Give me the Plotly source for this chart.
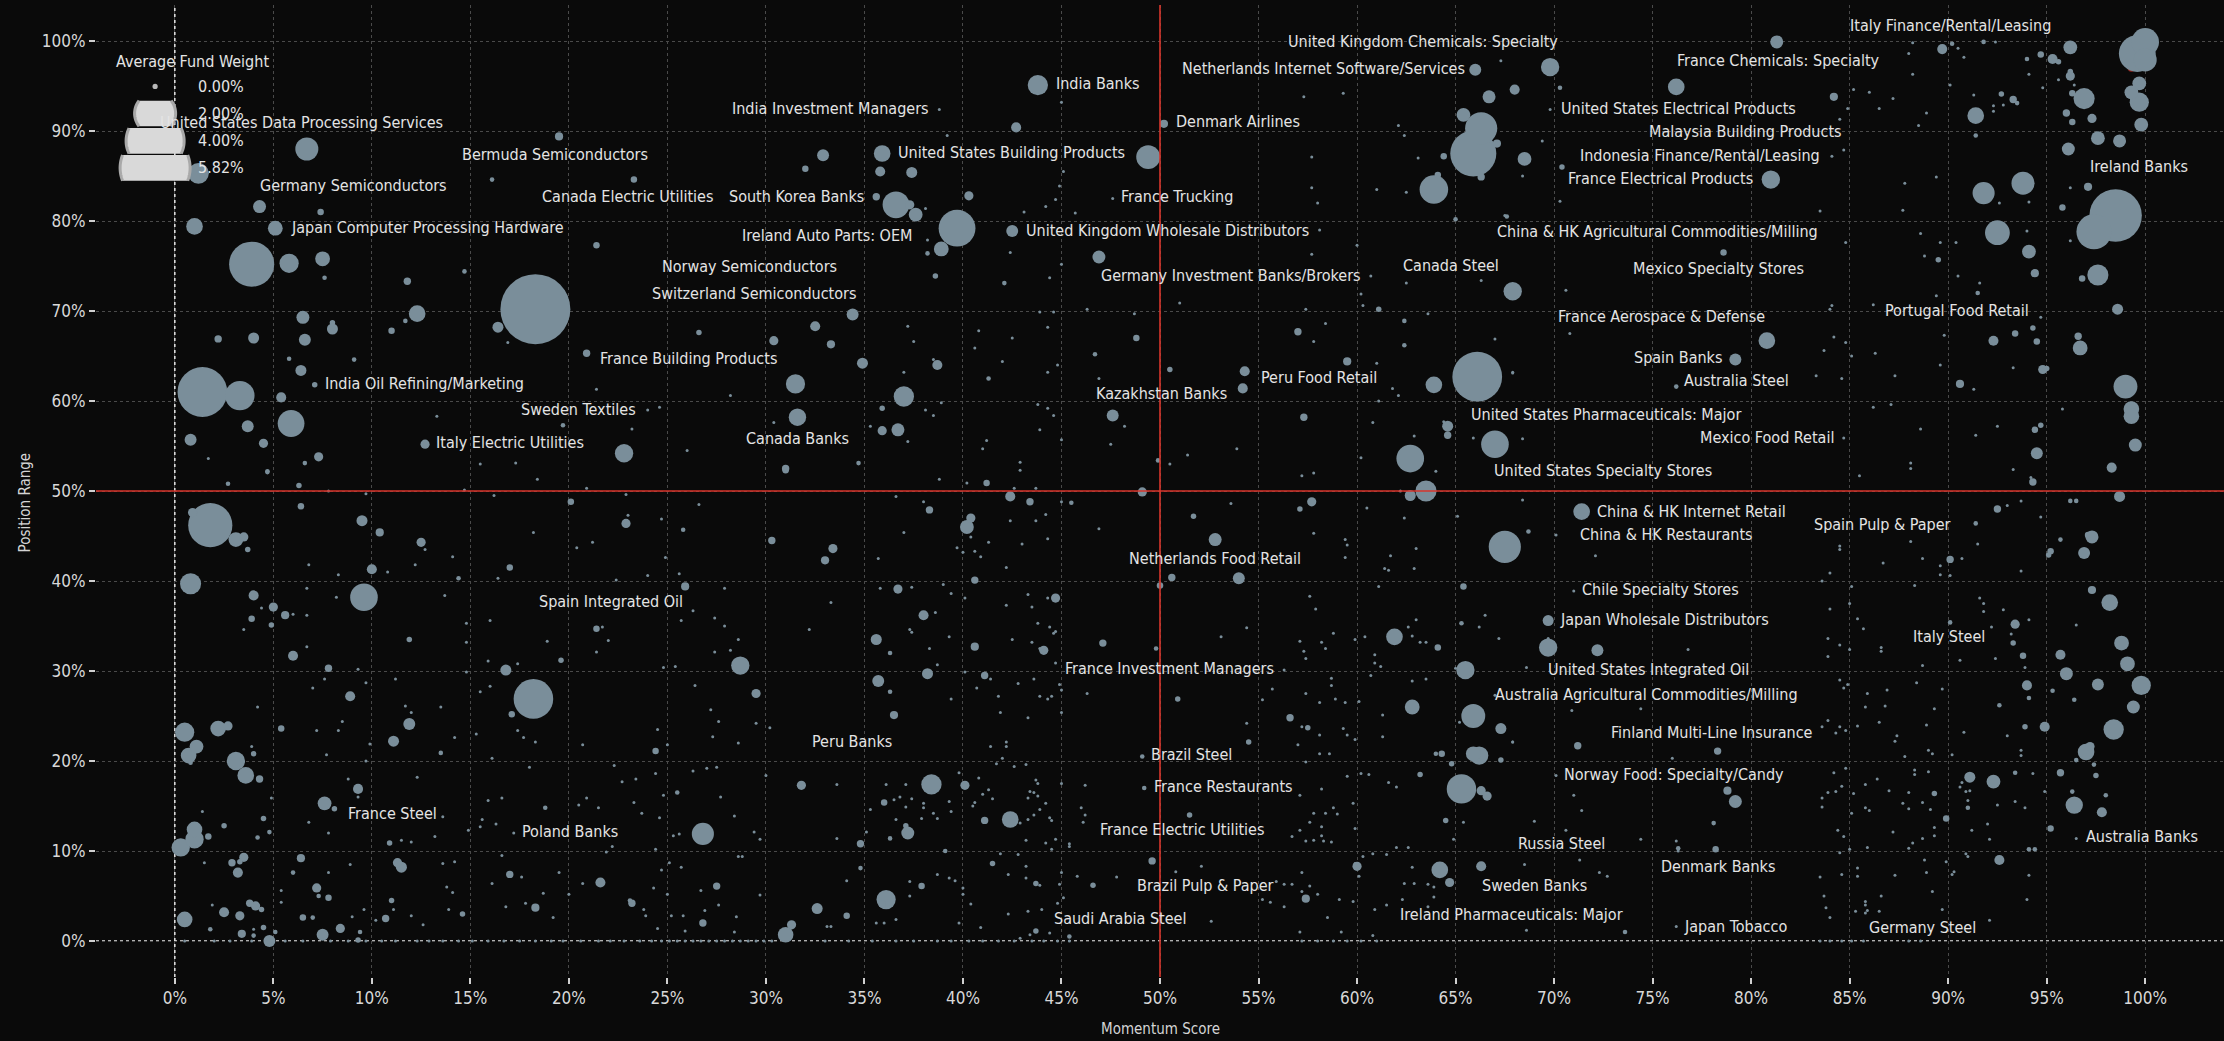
import numpy as np
import pandas as pd
import plotly.graph_objects as go

# Weighted points: (momentum score %, position range %, average fund weight %)
bubbles_top_left = [
    (1.2, 85.3, 0.51), (6.7, 88.0, 0.63), (19.5, 89.4, 0.08), (16.1, 84.6, 0.025), (23.3, 84.6, 0.05),
    (4.3, 81.6, 0.2), (7.4, 81.0, 0.05), (1.0, 79.4, 0.33), (5.1, 79.2, 0.26), (21.4, 77.3, 0.05),
    (3.9, 75.2, 2.42), (5.8, 75.3, 0.44), (7.5, 75.8, 0.26), (7.6, 73.7, 0.025), (11.8, 73.3, 0.065),
    (14.7, 74.4, 0.025), (18.3, 70.2, 5.82), (6.5, 69.3, 0.2), (12.3, 69.7, 0.33), (8.0, 68.7, 0.036),
    (8.0, 68.0, 0.145), (11.7, 68.9, 0.025), (11.0, 67.8, 0.05), (16.4, 68.2, 0.145), (2.2, 66.9, 0.065),
    (4.0, 67.0, 0.145), (6.6, 66.8, 0.17), (26.6, 67.6, 0.036), (30.4, 66.7, 0.1), (20.9, 65.3, 0.065),
    (5.8, 64.7, 0.025), (9.1, 64.6, 0.025), (6.4, 63.4, 0.145), (7.1, 61.8, 0.036), (1.4, 61.0, 2.94),
    (3.3, 60.6, 1.03), (5.4, 60.4, 0.12), (31.5, 61.9, 0.44), (19.7, 57.3, 0.025), (31.6, 58.2, 0.36),
    (3.7, 57.2, 0.17), (5.9, 57.5, 0.85), (0.8, 55.7, 0.17), (4.5, 55.3, 0.1), (12.7, 55.2, 0.1),
    (22.8, 54.2, 0.40), (31.0, 52.5, 0.065), (7.3, 53.8, 0.1), (6.6, 53.1, 0.025), (4.7, 52.2, 0.025),
    (32.0, 85.8, 0.05),
]
bubbles_top_mid = [
    (43.8, 95.1, 0.49), (42.7, 90.4, 0.12), (50.2, 90.8, 0.08), (32.9, 87.3, 0.17), (35.9, 87.5, 0.33),
    (35.8, 85.5, 0.12), (37.4, 85.4, 0.145), (49.4, 87.1, 0.68), (40.3, 82.8, 0.1), (35.6, 82.7, 0.065),
    (36.6, 81.8, 0.85), (37.3, 81.8, 0.1), (37.6, 80.7, 0.227), (39.7, 79.2, 1.61), (38.2, 76.4, 0.025),
    (38.9, 76.9, 0.26), (38.6, 73.9, 0.036), (42.5, 78.9, 0.17), (46.9, 76.0, 0.2), (42.1, 73.1, 0.025),
    (34.4, 69.6, 0.17), (32.5, 68.3, 0.12), (33.3, 66.3, 0.08), (48.8, 67.0, 0.05), (46.7, 65.2, 0.025),
    (34.9, 64.2, 0.145), (38.7, 64.0, 0.12), (41.3, 62.5, 0.025), (50.5, 63.5, 0.036), (54.3, 63.3, 0.12),
    (54.2, 61.4, 0.12), (59.5, 64.4, 0.08), (57.0, 67.7, 0.065), (62.4, 68.9, 0.025), (62.4, 66.2, 0.025),
    (61.1, 70.2, 0.036), (66.1, 62.7, 2.94), (63.9, 61.8, 0.33), (37.0, 60.5, 0.49), (35.9, 59.2, 0.036),
    (35.9, 56.7, 0.1), (36.7, 56.8, 0.2), (34.7, 53.1, 0.025), (47.6, 58.4, 0.17), (49.9, 53.4, 0.025),
    (57.3, 58.2, 0.065), (64.6, 57.2, 0.145), (64.6, 56.2, 0.065), (67.0, 55.2, 0.907), (62.7, 53.6, 0.907),
    (67.9, 72.2, 0.40), (65.0, 80.2, 0.025), (67.6, 80.5, 0.025), (63.9, 83.5, 0.97), (64.1, 85.1, 0.05),
    (66.3, 84.9, 0.065), (65.9, 87.5, 2.52), (66.3, 90.3, 1.23), (65.4, 91.8, 0.227), (67.1, 88.6, 0.08),
    (64.4, 87.2, 0.05), (66.7, 93.8, 0.2), (68.0, 94.6, 0.12), (66.0, 96.8, 0.17),
]
bubbles_top_right = [
    (81.3, 99.9, 0.2), (69.8, 97.1, 0.40), (70.3, 94.8, 0.025), (76.2, 94.9, 0.33), (68.5, 86.9, 0.227),
    (70.4, 86.0, 0.036), (81.0, 84.6, 0.40), (78.6, 76.5, 0.05), (80.8, 66.7, 0.33), (79.2, 64.6, 0.17),
    (76.2, 61.6, 0.025), (92.3, 66.7, 0.12), (93.4, 67.5, 0.05), (94.3, 68.1, 0.036), (94.5, 66.6, 0.05),
    (94.8, 63.5, 0.1), (95.0, 63.6, 0.036), (90.6, 61.9, 0.08), (96.6, 67.2, 0.065), (96.7, 65.9, 0.26),
    (99.0, 61.6, 0.68), (99.3, 59.1, 0.29), (99.3, 58.3, 0.29), (94.7, 57.3, 0.036), (94.4, 56.8, 0.05),
    (94.5, 54.2, 0.17), (99.5, 55.1, 0.2), (98.3, 52.6, 0.12), (98.6, 70.2, 0.145), (97.6, 74.0, 0.53),
    (96.8, 73.6, 0.05), (94.4, 74.2, 0.08), (94.1, 76.6, 0.227), (92.5, 78.7, 0.73), (97.4, 78.8, 1.46),
    (98.5, 80.6, 3.27), (95.8, 81.5, 0.05), (91.8, 83.1, 0.58), (93.8, 84.2, 0.63), (97.1, 83.8, 0.08),
    (96.1, 88.0, 0.2), (97.6, 89.2, 0.227), (98.7, 88.9, 0.2), (99.8, 90.7, 0.227), (96.3, 91.0, 0.05),
    (97.3, 91.4, 0.1), (96.0, 92.0, 0.065), (99.7, 93.2, 0.44), (99.3, 94.3, 0.227), (99.7, 95.3, 0.227),
    (96.9, 93.6, 0.53), (96.3, 94.2, 0.05), (96.2, 96.1, 0.1), (96.2, 96.6, 0.036), (95.3, 98.0, 0.12),
    (95.6, 97.7, 0.036), (94.7, 98.5, 0.05), (94.0, 98.0, 0.025), (96.2, 99.3, 0.227), (99.6, 98.6, 1.61),
    (100.0, 99.9, 0.907), (100.0, 97.9, 0.63), (91.4, 91.7, 0.33), (91.4, 89.5, 0.025), (92.7, 94.1, 0.036),
    (93.3, 93.5, 0.065), (93.5, 93.1, 0.025), (84.2, 93.8, 0.08), (89.7, 99.1, 0.12), (90.2, 99.7, 0.025),
    (91.8, 99.9, 0.025), (89.5, 75.7, 0.036), (91.5, 72.0, 0.025),
]
bubbles_low_left = [
    (1.8, 46.2, 2.32), (0.9, 47.6, 0.1), (3.1, 44.6, 0.26), (3.5, 44.9, 0.1), (3.7, 43.5, 0.036),
    (4.7, 52.1, 0.025), (2.7, 50.8, 0.025), (6.3, 50.6, 0.036), (6.4, 48.3, 0.05), (9.5, 46.7, 0.145),
    (10.4, 45.4, 0.08), (12.5, 44.3, 0.1), (20.1, 48.8, 0.05), (22.9, 46.4, 0.1), (25.8, 45.7, 0.025),
    (30.3, 44.5, 0.065), (31.0, 52.3, 0.05), (10.0, 41.3, 0.12), (14.4, 40.3, 0.025), (17.0, 41.5, 0.05),
    (25.9, 39.4, 0.08), (0.8, 39.7, 0.53), (4.0, 38.4, 0.12), (5.0, 37.1, 0.1), (5.6, 36.2, 0.08),
    (3.9, 35.8, 0.05), (4.9, 35.1, 0.036), (9.6, 38.2, 0.907), (21.4, 34.7, 0.05), (11.9, 33.5, 0.036),
    (6.0, 31.7, 0.12), (7.8, 30.3, 0.065), (19.6, 31.2, 0.036), (16.8, 30.1, 0.145), (28.7, 30.6, 0.40),
    (29.5, 27.5, 0.1), (24.4, 21.1, 0.05), (18.2, 26.9, 1.86), (17.1, 25.2, 0.05), (13.5, 20.9, 0.025),
    (11.9, 24.1, 0.17), (11.1, 22.2, 0.145), (8.9, 27.2, 0.12), (5.4, 23.6, 0.05), (0.5, 23.2, 0.44),
    (2.2, 23.6, 0.29), (2.7, 23.9, 0.1), (1.1, 21.6, 0.227), (0.7, 20.6, 0.29), (0.8, 19.8, 0.025),
    (3.1, 20.0, 0.40), (3.6, 18.4, 0.33), (4.3, 18.0, 0.065), (4.0, 20.8, 0.036), (9.3, 16.9, 0.12),
    (7.6, 15.3, 0.227), (8.1, 14.7, 0.036), (1.0, 12.4, 0.29), (1.0, 11.3, 0.40), (0.3, 10.4, 0.40),
    (1.7, 11.6, 0.05), (2.5, 12.8, 0.036), (4.5, 13.6, 0.036), (4.8, 12.1, 0.025), (4.2, 11.5, 0.025),
    (10.9, 10.9, 0.036), (18.8, 14.8, 0.025), (25.5, 16.5, 0.025), (26.8, 11.9, 0.58), (31.8, 17.3, 0.1),
    (6.4, 9.2, 0.08), (3.5, 9.3, 0.1), (2.9, 8.7, 0.065), (3.2, 7.6, 0.12), (3.3, 8.8, 0.036),
    (6.0, 7.6, 0.025), (7.2, 5.9, 0.1), (7.3, 5.0, 0.025), (7.8, 4.8, 0.05), (3.8, 4.2, 0.065),
    (4.1, 3.9, 0.1), (4.4, 3.5, 0.036), (2.5, 3.2, 0.12), (3.3, 2.8, 0.1), (0.5, 2.4, 0.29),
    (4.5, 1.5, 0.036), (1.8, 1.3, 0.025), (3.4, 0.8, 0.08), (4.0, 0.6, 0.025), (4.8, 0.0, 0.17),
    (5.1, 1.0, 0.025), (6.5, 2.6, 0.05), (7.0, 2.6, 0.025), (7.5, 0.7, 0.17), (8.4, 1.4, 0.1),
    (9.4, 1.0, 0.025), (9.3, 0.1, 0.036), (10.7, 2.5, 0.065), (11.0, 4.5, 0.036), (11.3, 8.7, 0.1),
    (11.5, 8.2, 0.145), (14.6, 3.0, 0.036), (17.0, 7.4, 0.065), (18.3, 3.7, 0.08), (21.6, 6.5, 0.12),
    (23.2, 4.2, 0.065), (23.1, 4.5, 0.025), (27.5, 6.1, 0.065), (26.8, 2.0, 0.065), (31.0, 0.7, 0.29),
    (31.3, 1.8, 0.1),
]
bubbles_low_mid = [
    (41.2, 50.9, 0.05), (42.4, 49.4, 0.12), (43.4, 48.8, 0.065), (49.1, 49.9, 0.1), (45.5, 48.7, 0.025),
    (38.3, 47.9, 0.065), (33.4, 43.6, 0.1), (33.0, 42.3, 0.08), (40.4, 47.0, 0.1), (40.2, 46.0, 0.227),
    (40.6, 40.1, 0.065), (36.7, 39.1, 0.1), (38.0, 36.2, 0.12), (35.6, 33.5, 0.145), (36.3, 32.0, 0.025),
    (40.6, 32.7, 0.08), (44.7, 38.1, 0.1), (44.1, 32.3, 0.1), (38.2, 29.7, 0.145), (41.1, 29.5, 0.065),
    (35.7, 28.9, 0.17), (36.3, 27.7, 0.025), (36.5, 25.1, 0.08), (47.1, 33.1, 0.065), (49.8, 32.5, 0.025),
    (50.9, 26.9, 0.036), (51.7, 47.2, 0.036), (52.8, 44.6, 0.2), (50.6, 40.4, 0.065), (50.0, 39.5, 0.05),
    (54.0, 40.3, 0.17), (57.1, 48.0, 0.036), (57.7, 48.8, 0.1), (62.7, 49.5, 0.145), (63.5, 50.0, 0.53),
    (67.5, 43.8, 1.23), (65.4, 39.4, 0.05), (65.3, 35.3, 0.025), (61.9, 33.8, 0.33), (64.1, 32.6, 0.05),
    (65.5, 30.1, 0.40), (62.8, 26.0, 0.26), (65.9, 25.0, 0.68), (67.3, 23.6, 0.145), (67.3, 20.1, 0.036),
    (65.9, 20.8, 0.26), (66.2, 20.6, 0.40), (64.0, 20.8, 0.025), (64.3, 20.8, 0.05), (64.8, 19.7, 0.036),
    (63.2, 18.5, 0.036), (65.3, 16.9, 1.03), (66.3, 16.7, 0.1), (66.6, 16.1, 0.1), (64.5, 13.4, 0.036),
    (56.6, 24.8, 0.065), (57.5, 23.7, 0.036), (54.5, 22.1, 0.036), (60.0, 8.3, 0.1), (64.2, 7.9, 0.33),
    (64.7, 6.5, 0.1), (66.3, 8.3, 0.12), (57.4, 4.7, 0.08), (49.6, 8.9, 0.065), (51.5, 14.0, 0.036),
    (49.2, 17.0, 0.025), (49.1, 20.5, 0.025), (38.4, 17.4, 0.49), (40.1, 17.3, 0.1), (36.0, 15.4, 0.05),
    (37.2, 12.0, 0.2), (37.1, 12.8, 0.036), (34.8, 10.8, 0.065), (36.3, 11.4, 0.025), (42.4, 13.5, 0.33),
    (41.1, 13.4, 0.065), (39.1, 10.0, 0.025), (34.8, 8.1, 0.025), (32.6, 3.6, 0.145), (34.1, 2.8, 0.05),
    (36.1, 4.6, 0.44), (35.9, 4.1, 0.065), (37.9, 6.1, 0.05), (41.5, 8.6, 0.036), (43.7, 6.4, 0.036),
    (46.6, 6.2, 0.036), (43.7, 1.1, 0.036), (45.4, 0.5, 0.025),
]
bubbles_low_right = [
    (94.3, 51.0, 0.065), (98.7, 49.4, 0.145), (96.2, 48.9, 0.025), (96.5, 48.9, 0.025), (92.5, 48.0, 0.065),
    (91.4, 46.4, 0.025), (97.3, 44.9, 0.2), (97.1, 45.1, 0.05), (96.9, 43.1, 0.17), (95.7, 44.6, 0.025),
    (95.2, 43.3, 0.05), (95.1, 42.9, 0.036), (90.1, 42.4, 0.065), (71.4, 47.7, 0.33), (68.7, 45.5, 0.025),
    (69.7, 35.6, 0.145), (69.7, 32.6, 0.40), (72.2, 32.3, 0.17), (71.2, 21.7, 0.065), (78.3, 21.1, 0.065),
    (78.8, 16.7, 0.08), (79.2, 15.5, 0.2), (78.1, 13.1, 0.025), (73.6, 1.0, 0.025), (78.2, 10.2, 0.05),
    (76.3, 10.3, 0.025), (97.3, 39.0, 0.08), (98.2, 37.6, 0.33), (98.8, 33.1, 0.26), (99.1, 30.8, 0.26),
    (99.8, 28.4, 0.44), (99.4, 26.0, 0.2), (97.6, 28.5, 0.17), (98.4, 23.5, 0.49), (97.0, 21.0, 0.33),
    (97.2, 21.6, 0.1), (96.0, 29.7, 0.2), (95.7, 31.8, 0.12), (94.0, 28.4, 0.12), (94.1, 27.0, 0.025),
    (95.3, 27.8, 0.025), (96.4, 26.8, 0.025), (94.9, 23.8, 0.12), (93.9, 23.8, 0.036), (93.4, 35.2, 0.1),
    (93.3, 33.1, 0.036), (93.8, 31.7, 0.05), (92.6, 26.2, 0.025), (90.1, 35.4, 0.025), (96.5, 20.1, 0.025),
    (97.4, 19.6, 0.025), (95.7, 18.7, 0.065), (93.4, 18.7, 0.025), (97.5, 18.4, 0.036), (96.3, 16.6, 0.025),
    (96.4, 15.1, 0.36), (97.8, 14.3, 0.12), (98.0, 16.2, 0.025), (95.2, 12.5, 0.05), (91.1, 18.2, 0.145),
    (92.3, 17.7, 0.227), (91.0, 14.8, 0.025), (89.3, 16.4, 0.036), (89.9, 13.6, 0.05), (94.1, 10.2, 0.025),
    (94.4, 10.2, 0.025), (92.6, 9.0, 0.12),
]

# Near-zero weight points: (momentum score %, position range %)
dots_top_left = [
    (16.9, 66.5), (21.4, 61.3), (28.2, 60.6), (24.0, 59.0), (24.6, 59.3), (13.3, 58.3), (23.2, 56.9),
    (30.4, 57.6), (1.7, 53.6), (26.0, 54.5), (15.5, 53.0), (17.3, 53.1),
]
dots_top_mid = [
    (45.0, 93.2), (38.8, 92.4), (39.2, 89.5), (45.1, 85.5), (44.9, 83.9), (44.7, 82.4), (45.7, 80.9),
    (43.1, 81.0), (44.2, 81.6), (38.1, 81.4), (38.2, 77.9), (47.6, 82.5), (45.0, 75.2), (44.4, 73.7),
    (42.4, 76.5), (51.0, 70.9), (46.3, 70.2), (48.7, 69.7), (43.9, 69.9), (44.6, 69.9), (37.2, 68.3),
    (37.5, 66.6), (40.8, 67.8), (42.5, 67.0), (40.6, 65.9), (44.3, 68.2), (37.0, 63.2), (38.5, 64.6),
    (42.0, 64.4), (44.3, 63.2), (44.8, 64.0), (46.9, 62.5), (57.8, 66.6), (58.4, 68.6), (63.6, 69.7),
    (60.3, 70.6), (60.2, 71.9), (57.4, 70.2), (67.0, 66.9), (61.8, 61.4), (62.1, 60.6), (61.0, 64.2),
    (61.1, 60.0), (67.9, 63.1), (38.1, 59.0), (38.5, 58.4), (38.9, 59.8), (35.3, 57.2), (37.2, 55.5),
    (43.8, 59.6), (44.3, 59.2), (44.6, 58.4), (43.9, 56.8), (45.0, 55.7), (41.2, 55.6), (41.0, 54.7),
    (42.9, 53.2), (42.9, 52.3), (48.2, 57.2), (47.5, 55.2), (50.5, 53.0), (51.4, 54.0), (53.9, 54.7),
    (60.8, 57.6), (62.9, 56.1), (60.2, 53.7), (64.4, 57.7), (65.9, 55.9), (63.3, 53.4), (64.0, 52.2),
    (57.8, 52.0), (57.2, 51.7), (60.0, 77.3), (57.7, 76.3), (60.7, 73.9), (62.5, 73.1), (66.3, 73.4),
    (59.3, 94.2), (57.3, 93.8), (62.1, 90.6), (62.4, 89.5), (57.7, 87.1), (63.1, 87.0), (57.7, 83.7),
    (58.0, 82.0), (61.0, 83.5), (62.5, 83.2), (58.1, 79.0), (67.3, 97.8),
]
dots_top_right = [
    (69.8, 92.4), (69.4, 88.9), (68.4, 85.0), (70.3, 82.2), (67.5, 80.6), (84.1, 87.2), (84.7, 87.9),
    (83.5, 81.1), (84.8, 77.6), (70.6, 72.3), (84.1, 70.6), (84.0, 70.2), (86.2, 70.7), (70.8, 67.5),
    (84.2, 67.1), (84.8, 66.5), (83.7, 65.6), (85.1, 65.0), (86.3, 65.3), (83.3, 62.8), (84.6, 62.5),
    (67.9, 63.2), (68.4, 55.8), (84.7, 55.9), (86.2, 59.3), (87.1, 59.6), (87.3, 62.8), (89.6, 64.0),
    (88.6, 56.9), (88.1, 53.1), (88.1, 52.5), (85.5, 51.7), (89.8, 67.3), (93.3, 63.7), (91.3, 61.3),
    (95.8, 59.1), (92.5, 57.2), (91.4, 56.2), (93.3, 52.4), (94.2, 51.5), (94.7, 69.3), (96.2, 77.8),
    (92.6, 82.0), (94.1, 82.1), (96.2, 83.7), (96.4, 95.1), (95.6, 95.7), (94.1, 96.3), (94.8, 94.8),
    (92.3, 92.8), (92.3, 92.2), (92.8, 92.9), (91.3, 94.0), (88.9, 92.0), (88.5, 90.6), (87.2, 93.6),
    (86.5, 92.5), (86.0, 94.3), (85.2, 94.6), (84.9, 92.5), (84.5, 91.3), (88.2, 96.3), (90.5, 99.2),
    (92.4, 99.9), (88.2, 99.8), (88.0, 98.6), (90.8, 98.2), (90.1, 95.1), (89.4, 84.9), (87.8, 84.2),
    (87.7, 81.2), (88.6, 78.6), (89.6, 77.6), (90.4, 77.6), (88.8, 76.1), (91.6, 73.1), (89.4, 71.7),
    (94.0, 78.9), (90.5, 73.9),
]
dots_low_left = [
    (7.8, 50.0), (9.7, 49.7), (14.7, 50.1), (16.2, 49.5), (18.4, 51.3), (20.9, 50.3), (22.9, 49.6),
    (23.0, 47.3), (24.7, 46.9), (26.6, 48.5), (12.7, 43.5), (18.2, 45.4), (21.2, 44.3), (20.4, 43.7),
    (14.1, 42.7), (12.2, 41.8), (10.8, 41.0), (8.3, 40.7), (6.8, 41.8), (16.4, 40.3), (22.4, 40.1),
    (24.0, 40.6), (24.9, 42.6), (25.6, 40.8), (27.9, 39.2), (6.0, 36.3), (6.7, 36.2), (4.4, 37.0),
    (3.5, 34.6), (6.7, 39.2), (8.2, 38.2), (13.7, 38.4), (14.8, 35.3), (16.0, 35.6), (21.7, 34.9),
    (22.0, 33.4), (18.9, 33.3), (14.8, 33.2), (6.7, 32.7), (9.3, 30.2), (21.4, 32.1), (17.4, 30.8),
    (15.9, 31.1), (14.8, 29.9), (27.4, 35.9), (27.9, 35.0), (27.4, 32.1), (28.2, 32.3), (28.6, 33.5),
    (24.8, 30.4), (25.4, 30.5), (26.3, 36.7), (25.7, 35.6), (26.4, 28.4), (27.2, 25.7), (27.6, 24.4),
    (29.5, 24.2), (30.2, 23.7), (27.3, 22.7), (28.6, 22.0), (25.0, 21.8), (24.5, 23.5), (20.7, 21.8),
    (17.4, 23.4), (17.7, 22.6), (18.3, 22.1), (18.0, 19.3), (16.0, 28.3), (15.5, 27.7), (15.3, 23.0),
    (16.1, 20.3), (14.2, 22.6), (13.5, 26.0), (11.7, 26.1), (12.0, 25.4), (9.9, 21.9), (9.7, 28.7),
    (11.2, 29.1), (7.6, 29.1), (7.0, 28.1), (8.5, 24.4), (8.3, 23.4), (7.2, 23.4), (7.7, 20.7),
    (9.7, 20.0), (4.2, 26.0), (3.9, 21.6), (12.3, 18.2), (8.8, 18.0), (9.3, 16.0), (4.9, 15.9),
    (1.4, 14.4), (6.8, 13.2), (7.8, 12.0), (11.5, 11.2), (12.0, 11.0), (13.2, 11.6), (13.6, 13.8),
    (14.9, 12.3), (15.5, 12.7), (16.3, 13.0), (15.6, 13.5), (17.2, 12.0), (15.9, 15.6), (16.6, 15.9),
    (20.9, 15.9), (20.5, 15.1), (21.5, 14.8), (22.3, 19.5), (23.3, 15.4), (23.7, 14.2), (24.6, 13.7),
    (24.8, 16.2), (26.3, 18.9), (27.0, 19.2), (27.5, 19.3), (23.4, 18.0), (24.4, 18.6), (22.7, 17.7),
    (25.3, 11.7), (25.6, 11.9), (29.4, 12.1), (29.7, 11.3), (28.4, 13.9), (27.7, 16.0), (30.0, 18.4),
    (28.8, 9.4), (28.6, 9.4), (1.5, 8.7), (8.9, 8.5), (7.8, 7.6), (5.4, 5.6), (5.4, 4.3),
    (1.9, 4.0), (4.0, 1.3), (9.0, 2.7), (10.2, 2.3), (11.1, 3.5), (9.6, 3.5), (12.0, 2.8),
    (12.6, 1.8), (13.8, 6.0), (14.1, 5.4), (13.9, 3.5), (13.6, 8.6), (14.2, 8.8), (16.6, 9.5),
    (17.6, 7.1), (16.1, 6.4), (16.8, 3.8), (17.8, 4.2), (18.7, 5.3), (19.2, 2.6), (19.5, 7.6),
    (20.0, 5.2), (20.7, 6.4), (22.2, 10.5), (21.9, 9.9), (23.8, 3.5), (23.9, 2.8), (24.3, 5.9),
    (24.4, 10.2), (24.7, 7.9), (25.0, 5.2), (25.1, 8.7), (25.7, 8.2), (27.6, 4.0), (26.9, 3.4),
    (25.8, 2.8), (25.9, 1.1), (26.7, 5.6), (28.5, 2.7), (28.4, 1.0), (29.7, 5.1), (24.5, 1.4),
    (25.2, 2.8),
]
dots_low_mid = [
    (42.6, 50.3), (43.7, 50.3), (45.0, 48.8), (38.8, 51.3), (40.2, 50.9), (36.6, 49.4), (38.0, 48.8),
    (40.4, 44.9), (42.4, 46.7), (43.0, 44.1), (41.3, 44.3), (40.6, 43.3), (40.9, 42.7), (40.0, 43.2),
    (39.7, 43.7), (42.2, 41.5), (43.7, 46.7), (44.3, 44.7), (44.2, 47.4), (37.0, 45.4), (35.7, 42.5),
    (39.0, 39.6), (39.4, 38.6), (40.1, 38.1), (35.8, 39.2), (37.4, 39.3), (33.3, 37.6), (32.2, 34.6),
    (38.6, 36.5), (37.3, 34.6), (37.4, 34.3), (38.3, 32.5), (39.3, 33.8), (42.2, 37.3), (43.3, 38.5),
    (43.5, 37.1), (43.8, 35.3), (44.4, 34.9), (44.6, 34.2), (44.7, 34.4), (44.3, 38.1), (42.5, 33.5),
    (43.5, 33.2), (43.9, 32.5), (44.7, 30.9), (38.7, 30.7), (40.1, 29.9), (39.4, 26.9), (40.7, 28.1),
    (41.8, 27.2), (41.4, 29.1), (42.8, 28.6), (43.6, 29.1), (43.9, 27.2), (44.3, 26.9), (44.5, 27.2),
    (45.0, 27.9), (44.9, 28.5), (43.3, 24.8), (41.9, 25.4), (45.0, 25.4), (46.3, 27.5), (53.6, 48.6),
    (54.4, 34.8), (53.1, 33.8), (56.3, 30.1), (57.8, 45.3), (59.4, 44.6), (59.5, 44.0), (59.4, 42.6),
    (60.5, 48.1), (61.7, 42.8), (61.4, 41.4), (61.6, 41.2), (63.0, 43.6), (62.9, 41.4), (62.4, 47.0),
    (65.1, 47.2), (62.2, 50.0), (66.2, 34.9), (66.5, 36.2), (67.2, 33.6), (61.1, 39.4), (57.6, 38.3),
    (57.9, 36.9), (58.8, 34.2), (58.2, 33.2), (58.4, 32.5), (57.1, 33.3), (57.3, 32.2), (57.4, 31.4),
    (59.9, 33.5), (60.4, 33.8), (62.6, 34.9), (63.0, 35.7), (62.8, 33.9), (63.2, 33.2), (63.5, 33.2),
    (60.9, 31.8), (60.9, 30.9), (61.2, 30.5), (65.0, 30.3), (62.8, 28.9), (63.5, 29.1), (60.7, 29.5),
    (58.7, 29.2), (58.7, 28.4), (58.9, 26.9), (57.4, 27.5), (58.1, 26.5), (59.4, 26.5), (60.1, 26.6),
    (55.2, 26.8), (55.7, 28.0), (67.0, 27.3), (67.9, 22.1), (65.2, 24.3), (54.4, 24.2), (57.0, 21.8),
    (58.1, 22.9), (59.3, 23.6), (59.5, 22.9), (59.9, 22.4), (61.3, 22.7), (61.3, 25.1), (57.2, 23.8),
    (58.1, 20.8), (58.6, 20.8), (57.4, 19.9), (59.5, 18.3), (60.2, 18.6), (60.6, 18.5), (61.6, 17.6),
    (62.0, 17.1), (58.2, 16.9), (57.1, 16.2), (57.8, 14.2), (58.4, 14.2), (59.0, 14.1), (58.8, 14.8),
    (57.6, 13.2), (58.2, 12.7), (59.8, 15.3), (59.9, 12.5), (57.1, 12.3), (56.7, 11.6), (57.4, 11.1),
    (57.8, 11.2), (58.2, 11.7), (58.3, 11.1), (58.7, 11.0), (60.3, 9.4), (60.8, 9.7), (61.5, 9.6),
    (62.0, 10.4), (62.6, 10.4), (62.8, 8.2), (62.4, 6.4), (62.3, 4.6), (63.6, 6.3), (63.9, 6.0),
    (63.9, 4.9), (63.6, 3.8), (62.9, 6.4), (65.4, 13.2), (64.9, 11.3), (57.2, 5.5), (57.2, 7.6),
    (56.7, 6.3), (57.6, 6.1), (58.0, 5.2), (55.9, 6.6), (56.3, 6.3), (55.2, 4.6), (55.6, 4.3),
    (56.3, 3.8), (58.5, 2.6), (59.1, 4.6), (59.8, 4.4), (59.2, 1.0), (57.1, 1.0), (60.9, 3.5),
    (61.5, 4.0), (60.8, 0.6), (59.9, 8.6), (60.1, 7.2), (52.1, 8.3), (50.8, 7.7), (52.6, 2.2),
    (33.6, 17.4), (36.1, 17.4), (37.1, 17.4), (39.8, 18.7), (40.8, 18.1), (41.0, 16.3), (41.3, 16.8),
    (41.5, 15.8), (40.6, 15.4), (40.5, 15.0), (41.7, 19.7), (42.0, 20.3), (42.2, 21.6), (41.4, 21.6),
    (42.2, 22.1), (42.6, 19.4), (43.2, 19.6), (43.7, 17.9), (43.4, 16.6), (43.3, 15.9), (43.6, 16.5),
    (43.8, 16.1), (44.2, 15.3), (43.9, 14.6), (43.6, 14.0), (44.4, 13.7), (44.5, 13.4), (43.8, 17.5),
    (45.0, 17.5), (46.2, 17.3), (46.0, 14.8), (46.2, 14.0), (46.1, 13.2), (35.3, 14.6), (36.6, 13.5),
    (37.9, 13.6), (38.7, 13.6), (38.5, 14.2), (38.0, 14.8), (38.0, 15.3), (37.4, 15.8), (36.8, 16.0),
    (37.1, 14.9), (36.5, 15.7), (39.3, 15.5), (39.4, 14.4), (36.3, 11.4), (35.1, 12.1), (33.6, 11.4),
    (42.9, 13.1), (43.3, 13.5), (43.2, 11.2), (44.2, 10.9), (44.7, 11.3), (45.4, 10.8), (44.5, 10.2),
    (45.4, 10.5), (34.1, 6.7), (33.1, 1.6), (33.3, 1.6), (37.3, 6.6), (37.3, 5.0), (38.7, 7.4),
    (39.3, 7.0), (39.6, 6.7), (40.0, 5.9), (40.0, 5.2), (40.4, 4.1), (39.8, 2.0), (36.6, 2.4),
    (35.6, 2.0), (36.0, 2.0), (41.9, 9.7), (42.8, 9.6), (43.2, 8.3), (42.3, 7.4), (43.2, 7.0),
    (43.9, 6.2), (44.9, 6.3), (45.0, 7.6), (45.1, 4.8), (44.8, 4.2), (45.8, 7.2), (47.8, 7.1),
    (42.3, 3.0), (43.3, 3.3), (44.0, 3.5), (44.4, 0.9), (43.4, 0.7), (42.9, 0.3), (40.9, 1.5),
    (46.9, 45.8),
]
dots_low_right = [
    (93.0, 48.4), (93.7, 48.9), (94.7, 47.1), (90.7, 42.5), (88.7, 42.5), (89.6, 41.7), (89.6, 40.7),
    (90.1, 40.6), (93.7, 41.1), (86.7, 42.0), (88.1, 44.4), (91.5, 44.1), (68.4, 49.0), (70.1, 45.1),
    (72.1, 42.8), (71.0, 38.9), (69.7, 33.6), (68.6, 30.4), (67.9, 22.1), (70.9, 25.6), (74.4, 25.8),
    (76.0, 20.3), (71.0, 16.2), (71.4, 14.5), (70.1, 18.4), (69.0, 13.3), (70.6, 12.3), (74.4, 11.3),
    (76.2, 11.1), (76.3, 10.0), (68.5, 8.5), (71.3, 9.0), (72.3, 7.6), (72.7, 7.2), (68.6, 1.2),
    (91.6, 38.1), (91.8, 37.5), (91.8, 36.6), (92.8, 36.8), (93.2, 34.1), (94.1, 35.7), (92.2, 34.9),
    (92.4, 31.4), (93.9, 30.4), (90.6, 31.2), (88.7, 30.6), (88.4, 28.7), (89.7, 28.0), (86.9, 27.9),
    (85.8, 26.0), (86.8, 26.1), (89.3, 25.8), (85.9, 27.5), (85.4, 23.9), (86.5, 24.3), (88.9, 24.0),
    (90.8, 23.2), (93.0, 22.8), (87.3, 22.2), (87.4, 22.8), (89.0, 21.2), (89.2, 20.8), (87.8, 20.5),
    (90.2, 20.7), (83.6, 23.8), (83.9, 24.5), (84.3, 23.1), (84.5, 23.8), (84.8, 23.4), (84.0, 36.9),
    (85.0, 37.5), (85.4, 35.8), (85.7, 34.7), (83.9, 33.6), (84.5, 32.9), (83.9, 31.6), (85.0, 32.4),
    (86.6, 32.6), (86.6, 32.2), (88.3, 39.5), (85.1, 39.4), (84.5, 43.9), (84.5, 43.5), (84.0, 40.9),
    (83.6, 40.0), (84.5, 29.0), (84.7, 28.1), (84.9, 28.5), (94.3, 18.6), (90.7, 17.6), (90.6, 17.1),
    (90.9, 16.6), (91.1, 16.7), (91.0, 15.6), (92.5, 15.1), (93.4, 15.5), (94.9, 16.6), (92.0, 13.0),
    (91.2, 12.3), (92.1, 11.3), (93.9, 14.8), (88.0, 16.5), (87.7, 15.3), (88.0, 14.7), (88.7, 15.4),
    (89.1, 14.6), (87.0, 16.7), (86.4, 18.0), (85.8, 17.4), (85.2, 16.4), (84.6, 17.2), (84.3, 16.6),
    (83.9, 16.5), (83.6, 15.9), (83.6, 14.9), (85.1, 14.2), (85.8, 14.8), (86.0, 14.5), (84.2, 18.7),
    (84.8, 19.2), (88.3, 19.0), (88.3, 18.5), (89.0, 18.8), (89.3, 12.6), (89.3, 11.7), (88.7, 11.4),
    (88.2, 10.9), (87.2, 12.1), (84.4, 12.3), (84.7, 11.6), (85.9, 10.4), (85.0, 10.2), (84.5, 9.8),
    (88.0, 10.3), (90.9, 9.7), (91.0, 9.4), (89.9, 8.8), (88.8, 9.0), (90.3, 7.7), (90.2, 7.4),
    (88.9, 7.6), (87.3, 7.3), (94.1, 7.3), (94.0, 4.6), (85.4, 8.1), (85.4, 7.2), (84.6, 7.4),
    (83.5, 7.1), (83.7, 5.0), (86.6, 5.0), (85.8, 4.4), (85.8, 4.0), (85.9, 3.4), (85.3, 3.3),
    (85.8, 3.1), (86.5, 3.3), (83.8, 3.7), (84.0, 2.6), (89.7, 3.5), (92.1, 2.3), (76.8, 32.4),
    (76.2, 1.6), (96.5, 35.1), (93.7, 20.6), (93.7, 21.2), (96.5, 11.4), (89.2, 5.5),
]
# momentum scores of points sitting on the 0% position range floor
floor_momentum = [
    0.5, 2.0, 2.8, 3.9, 5.6, 6.5, 7.9, 8.8, 9.7, 10.5, 11.2, 12.3, 12.9, 13.6, 14.4, 15.1, 15.9, 16.7,
    17.5, 18.3, 19.1, 19.7, 20.6, 21.5, 22.1, 22.8, 23.6, 24.2, 24.7, 25.1, 25.5, 25.9, 26.3, 26.7,
    27.1, 27.5, 27.9, 28.3, 28.7, 29.1, 29.5, 29.9, 30.3, 33.0, 34.2, 35.4, 36.6, 37.5, 38.7, 39.4,
    40.3, 41.0, 41.8, 42.6, 43.5, 44.1, 44.8, 45.4, 57.2, 58.0, 58.8, 59.5, 60.2, 61.0, 83.5, 84.0,
    84.6, 85.1, 85.7, 88.0, 88.6,
]
highlight_point = [(99.3, 97.0, 0.065)]

label_names = [
    "Italy Finance/Rental/Leasing", "United Kingdom Chemicals: Specialty", "France Chemicals: Specialty",
    "Netherlands Internet Software/Services", "India Banks", "India Investment Managers",
    "United States Electrical Products", "Denmark Airlines", "United States Data Processing Services",
    "Malaysia Building Products", "Bermuda Semiconductors", "United States Building Products",
    "Indonesia Finance/Rental/Leasing", "Ireland Banks", "France Electrical Products",
    "Germany Semiconductors", "Canada Electric Utilities", "South Korea Banks", "France Trucking",
    "Japan Computer Processing Hardware", "United Kingdom Wholesale Distributors",
    "China & HK Agricultural Commodities/Milling", "Ireland Auto Parts: OEM", "Norway Semiconductors",
    "Mexico Specialty Stores", "Germany Investment Banks/Brokers", "Canada Steel",
    "Switzerland Semiconductors", "France Aerospace & Defense", "Portugal Food Retail",
    "France Building Products", "Spain Banks", "Australia Steel", "India Oil Refining/Marketing",
    "Peru Food Retail", "Kazakhstan Banks", "Sweden Textiles", "United States Pharmaceuticals: Major",
    "Italy Electric Utilities", "Canada Banks", "Mexico Food Retail", "United States Specialty Stores",
    "China & HK Internet Retail", "Spain Pulp & Paper", "China & HK Restaurants",
    "Netherlands Food Retail", "Spain Integrated Oil", "Chile Specialty Stores",
    "Japan Wholesale Distributors", "Italy Steel", "France Investment Managers",
    "United States Integrated Oil", "Australia Agricultural Commodities/Milling",
    "Finland Multi-Line Insurance", "Peru Banks", "Brazil Steel", "Norway Food: Specialty/Candy",
    "France Restaurants", "France Steel", "France Electric Utilities", "Poland Banks", "Russia Steel",
    "Denmark Banks", "Australia Banks", "Brazil Pulp & Paper", "Sweden Banks",
    "Ireland Pharmaceuticals: Major", "Saudi Arabia Steel", "Japan Tobacco", "Germany Steel",
]
# where each label's text sits (x, y in axis units, which side is anchored)
label_spots = [
    (84.9, 101.7, "left"), (56.4, 99.9, "left"), (76.15, 97.8, "left"), (51.0, 96.9, "left"),
    (44.6, 95.3, "left"), (38.4, 92.5, "right"), (70.25, 92.5, "left"), (50.7, 91.1, "left"),
    (13.7, 90.9, "right"), (84.7, 89.9, "right"), (24.1, 87.4, "right"), (36.6, 87.6, "left"),
    (83.6, 87.3, "right"), (97.1, 86.1, "left"), (80.2, 84.7, "right"), (4.2, 83.9, "left"),
    (27.4, 82.7, "right"), (35.1, 82.7, "right"), (47.9, 82.7, "left"), (5.8, 79.3, "left"),
    (43.1, 79.0, "left"), (83.5, 78.8, "right"), (37.5, 78.4, "right"), (24.6, 75.0, "left"),
    (82.8, 74.7, "right"), (46.9, 73.9, "left"), (67.3, 75.1, "right"), (24.1, 72.0, "left"),
    (80.8, 69.4, "right"), (94.2, 70.1, "right"), (21.5, 64.7, "left"), (78.6, 64.85, "right"),
    (76.5, 62.3, "left"), (7.5, 62.0, "left"), (55.0, 62.6, "left"), (53.5, 60.8, "right"),
    (23.5, 59.1, "right"), (79.6, 58.5, "right"), (13.15, 55.4, "left"), (28.9, 55.8, "left"),
    (84.3, 56.0, "right"), (78.1, 52.25, "right"), (72.1, 47.7, "left"), (90.25, 46.3, "right"),
    (71.2, 45.2, "left"), (48.3, 42.5, "left"), (25.9, 37.7, "right"), (71.3, 39.1, "left"),
    (70.2, 35.7, "left"), (88.1, 33.8, "left"), (55.9, 30.3, "right"), (69.6, 30.2, "left"),
    (82.5, 27.4, "right"), (83.25, 23.2, "right"), (36.5, 22.2, "right"), (49.45, 20.7, "left"),
    (70.4, 18.55, "left"), (49.6, 17.2, "left"), (8.7, 14.2, "left"), (55.4, 12.4, "right"),
    (17.5, 12.2, "left"), (72.7, 10.8, "right"), (75.3, 8.3, "left"), (96.9, 11.6, "left"),
    (55.9, 6.2, "right"), (66.25, 6.2, "left"), (73.6, 3.0, "right"), (44.5, 2.45, "left"),
    (76.5, 1.65, "left"), (85.9, 1.55, "left"),
]
legend_values = [0.0, 2.0, 4.0, 5.82]
legend_text = ["0.00%", "2.00%", "4.00%", "5.82%"]

FONT = "Liberation Sans Narrow, DejaVu Sans Condensed, Arial Narrow, Roboto, sans-serif"
BG = "#0a0a0a"
BUBBLE = "#7a8e9a"
TEXT = "#e4e4e4"
RED = "#d8352b"
LABEL_SIZE = 16


def marker_px(weight):
    # bubble area follows fund weight, with a floor so zero-weight names still show
    w = np.asarray(weight, dtype=float)
    return np.maximum(3.0, 70.0 * np.sqrt(w / 5.82))


bubbles = pd.DataFrame(
    bubbles_top_left + bubbles_top_mid + bubbles_top_right
    + bubbles_low_left + bubbles_low_mid + bubbles_low_right,
    columns=["momentum", "position", "weight"],
).sort_values("weight", ascending=False)

dots = pd.DataFrame(
    dots_top_left + dots_top_mid + dots_top_right + dots_low_left + dots_low_mid + dots_low_right
    + [(m, 0.0) for m in floor_momentum],
    columns=["momentum", "position"],
)
hl = pd.DataFrame(highlight_point, columns=["momentum", "position", "weight"])

fig = go.Figure()
fig.add_trace(go.Scatter(
    x=hl["momentum"], y=hl["position"], mode="markers",
    marker=dict(size=marker_px(hl["weight"]), color=RED, line=dict(width=0)),
    hoverinfo="skip"))
fig.add_trace(go.Scatter(
    x=bubbles["momentum"], y=bubbles["position"], mode="markers",
    marker=dict(size=marker_px(bubbles["weight"]), color=BUBBLE, opacity=1, line=dict(width=0)),
    hoverinfo="skip"))
fig.add_trace(go.Scatter(
    x=dots["momentum"], y=dots["position"], mode="markers",
    marker=dict(size=3, color=BUBBLE, line=dict(width=0)),
    hoverinfo="skip"))

annotations = []
for name, (lx, ly, side) in zip(label_names, label_spots):
    annotations.append(dict(x=lx, y=ly, xref="x", yref="y", text=name, showarrow=False,
                            xanchor=side, yanchor="middle", font=dict(size=LABEL_SIZE, color=TEXT)))

# axis titles
annotations.append(dict(x=0.5, y=-0.054, xref="paper", yref="paper", text="Momentum Score",
                        showarrow=False, xanchor="center", yanchor="middle",
                        font=dict(size=15, color="#d4d4d4")))
annotations.append(dict(x=-0.0335, y=0.488, xref="paper", yref="paper", text="Position Range",
                        showarrow=False, textangle=-90, xanchor="center", yanchor="middle",
                        font=dict(size=15, color="#d4d4d4")))

# size legend, drawn by hand over the top-left corner
leg_x = -1.0
leg_rows = [94.95, 91.95, 88.9, 85.9]
annotations.append(dict(x=0.9, y=97.7, xref="x", yref="y", text="Average Fund Weight",
                        showarrow=False, xanchor="center", yanchor="middle",
                        font=dict(size=LABEL_SIZE, color=TEXT)))
for txt, ly in zip(legend_text, leg_rows):
    annotations.append(dict(x=1.1, y=ly, xref="x", yref="y", text=txt, showarrow=False,
                            xanchor="left", yanchor="middle", font=dict(size=LABEL_SIZE, color=TEXT)))

shapes = [
    dict(type="line", xref="x", yref="paper", x0=0, x1=0, y0=0, y1=1,
         line=dict(color="#e8e8e8", width=1.5, dash="dot"), layer="below"),
    dict(type="line", xref="paper", yref="y", x0=0, x1=1, y0=0, y1=0,
         line=dict(color="#e8e8e8", width=1.5, dash="dot"), layer="below"),
    dict(type="line", xref="x", yref="paper", x0=50, x1=50, y0=0, y1=1,
         line=dict(color=RED, width=1.6), layer="above"),
    dict(type="line", xref="paper", yref="y", x0=0, x1=1, y0=50, y1=50,
         line=dict(color=RED, width=1.6), layer="above"),
]


def barrel_paths(r, h=12.8, n=28):
    ys = np.linspace(-h, h, n)
    xs = np.sqrt(np.maximum(r * r - ys * ys, 0.0))
    right = [f"{x:.2f},{y:.2f}" for x, y in zip(xs, ys)]
    left = [f"{-x:.2f},{y:.2f}" for x, y in zip(xs[::-1], ys[::-1])]
    body = "M " + " L ".join(right + left) + " Z"
    return body, "M " + " L ".join(right), "M " + " L ".join(left)


leg_sizes = marker_px(legend_values)
r0 = 2.6
shapes.append(dict(type="circle", xref="x", yref="y", xsizemode="pixel", ysizemode="pixel",
                   xanchor=leg_x, yanchor=leg_rows[0], x0=-r0, x1=r0, y0=-r0, y1=r0,
                   fillcolor="#b8b8b8", line=dict(width=0), layer="above"))
for d, ly in zip(leg_sizes[1:], leg_rows[1:]):
    body, rside, lside = barrel_paths(d / 2.0)
    common = dict(type="path", xref="x", yref="y", xsizemode="pixel", ysizemode="pixel",
                  xanchor=leg_x, yanchor=ly, layer="above")
    shapes.append(dict(path=body, fillcolor="#d9d9d9", line=dict(width=0), **common))
    shapes.append(dict(path=rside, line=dict(color="#a9a9a9", width=3), **common))
    shapes.append(dict(path=lside, line=dict(color="#a9a9a9", width=3), **common))

axis_common = dict(
    showgrid=True, gridcolor="#4a4a4a", gridwidth=1, griddash="3px,3px",
    zeroline=False, showline=False, ticks="outside", ticklen=6, tickwidth=1.5,
    tickcolor="#d0d0d0", ticksuffix="%", tickfont=dict(size=17, color="#d8d8d8"),
    range=[-4, 104], tick0=0,
)
fig.update_xaxes(dtick=5, **axis_common)
fig.update_yaxes(dtick=10, **axis_common)

fig.update_layout(
    width=2224, height=1041,
    margin=dict(l=96, r=0, t=5, b=64),
    paper_bgcolor=BG, plot_bgcolor=BG,
    font=dict(family=FONT, color=TEXT, size=17),
    showlegend=False,
    annotations=annotations,
    shapes=shapes,
)

fig.write_html("out.html", config={"displayModeBar": False},
               post_script="document.body.style.margin='0';")
